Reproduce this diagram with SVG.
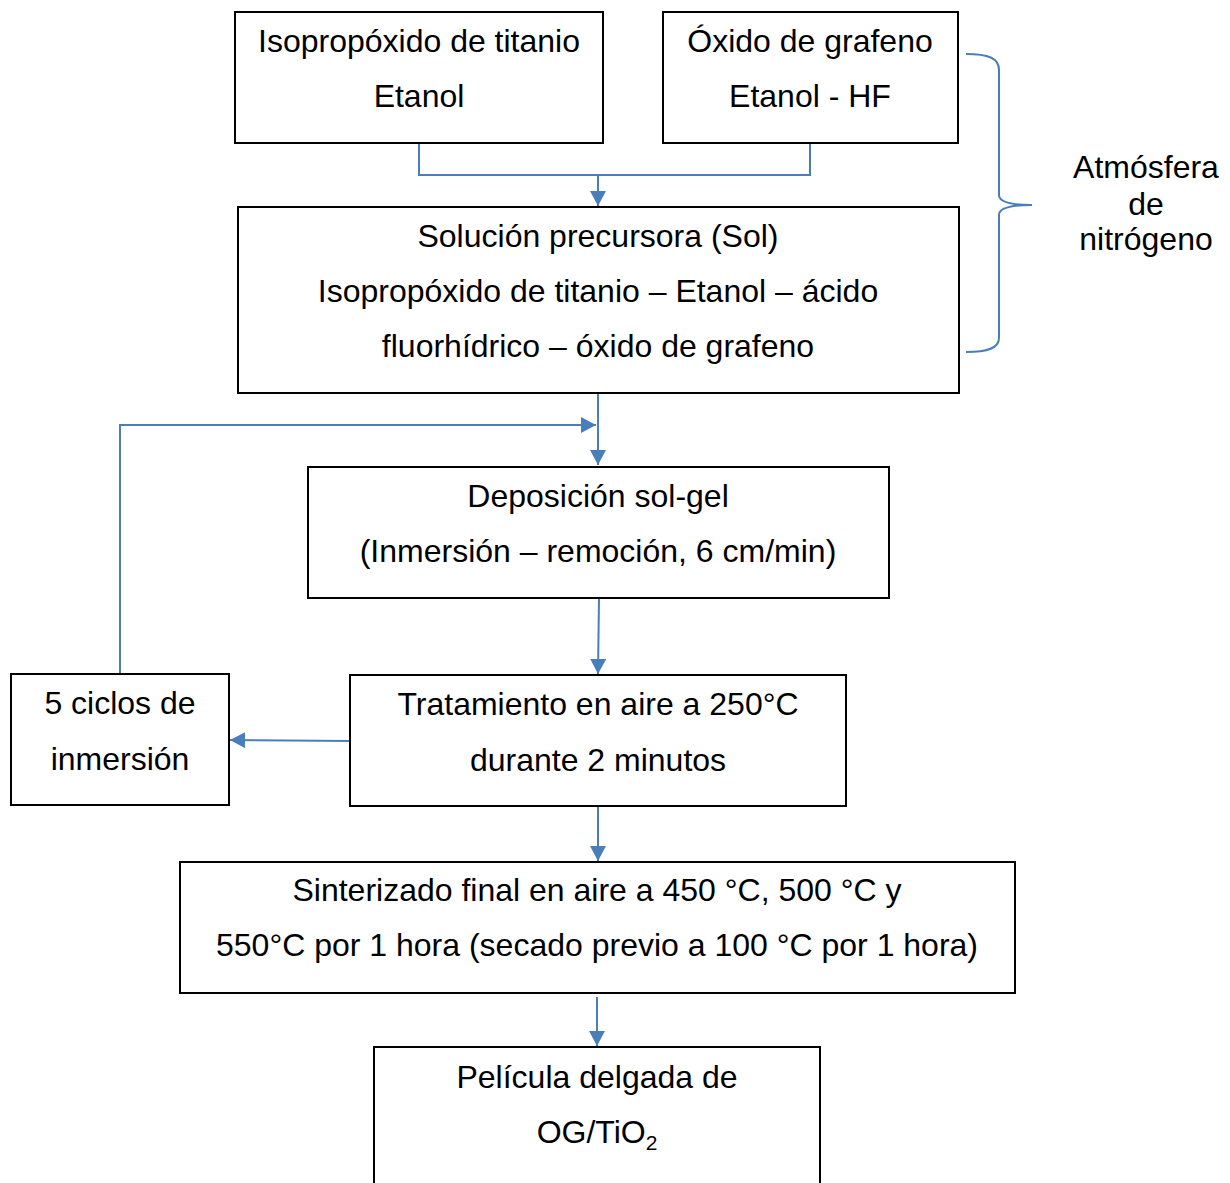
<svg xmlns="http://www.w3.org/2000/svg" width="1230" height="1183" viewBox="0 0 1230 1183">
<style>
.box{fill:#fff;stroke:#000;stroke-width:2}
text{font-family:"Liberation Sans",Arial,sans-serif;font-size:32px;fill:#000;text-anchor:middle}
.c{fill:none;stroke:#4a7ebb;stroke-width:2}
</style>
<defs>
<marker id="ah" markerUnits="userSpaceOnUse" markerWidth="16" markerHeight="16" viewBox="0 0 16 16" refX="15" refY="8" orient="auto">
<path d="M0,0 L15,8 L0,16 z" fill="#4a7ebb"/>
</marker>
</defs>
<rect width="1230" height="1183" fill="#fff"/>
<g id="connectors">
<polyline class="c" points="419,143 419,175 810,175 810,143"/>
<line class="c" x1="598" y1="175" x2="598" y2="206" marker-end="url(#ah)"/>
<line class="c" x1="598" y1="393" x2="598" y2="465" marker-end="url(#ah)"/>
<polyline class="c" points="120,674 120,425 596,425" marker-end="url(#ah)"/>
<line class="c" x1="599" y1="598" x2="598" y2="674" marker-end="url(#ah)"/>
<line class="c" x1="350" y1="741" x2="230" y2="740" marker-end="url(#ah)"/>
<line class="c" x1="598" y1="806" x2="598" y2="861" marker-end="url(#ah)"/>
<line class="c" x1="597" y1="997" x2="597" y2="1046" marker-end="url(#ah)"/>
<path class="c" d="M966,54 C988,54 999,58 999,70 L999,195 C999,202 1010,205 1032,205 C1010,205 999,208 999,215 L999,338 C999,348 988,352 966,352"/>
</g>
<g id="n1"><rect class="box" x="235" y="12" width="368" height="131"/>
<text x="419" y="52">Isopropóxido de titanio</text><text x="419" y="107">Etanol</text></g>
<g id="n2"><rect class="box" x="663" y="12" width="295" height="131"/>
<text x="810" y="52">Óxido de grafeno</text><text x="810" y="107">Etanol - HF</text></g>
<g id="n3"><rect class="box" x="238" y="207" width="721" height="186"/>
<text x="598" y="247">Solución precursora (Sol)</text>
<text x="598" y="302">Isopropóxido de titanio – Etanol – ácido</text>
<text x="598" y="357">fluorhídrico – óxido de grafeno</text></g>
<g id="n4"><rect class="box" x="308" y="467" width="581" height="131"/>
<text x="598" y="507">Deposición sol-gel</text>
<text x="598" y="562">(Inmersión – remoción, 6 cm/min)</text></g>
<g id="n5"><rect class="box" x="350" y="675" width="496" height="131"/>
<text x="598" y="715">Tratamiento en aire a 250°C</text>
<text x="598" y="771">durante 2 minutos</text></g>
<g id="n6"><rect class="box" x="11" y="674" width="218" height="131"/>
<text x="120" y="714">5 ciclos de</text>
<text x="120" y="770">inmersión</text></g>
<g id="n7"><rect class="box" x="180" y="862" width="835" height="131"/>
<text x="597" y="901">Sinterizado final en aire a 450 °C, 500 °C y</text>
<text x="597" y="956">550°C por 1 hora (secado previo a 100 °C por 1 hora)</text></g>
<g id="n8"><rect class="box" x="374" y="1047" width="446" height="150"/>
<text x="597" y="1088">Película delgada de</text>
<text x="597" y="1143">OG/TiO<tspan font-size="21" dy="7">2</tspan></text></g>
<g id="label">
<text x="1146" y="178">Atmósfera</text>
<text x="1146" y="215">de</text>
<text x="1146" y="250">nitrógeno</text></g>
</svg>
